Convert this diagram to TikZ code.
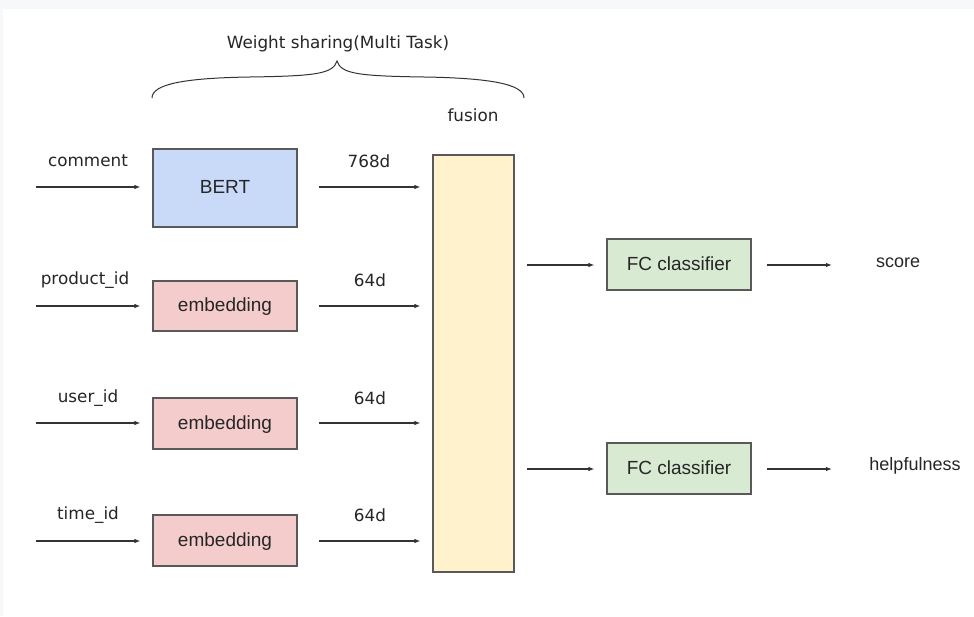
\documentclass[tikz,border=0pt]{standalone}
\usepackage{fontspec}
\setmainfont{Liberation Sans}
\newfontfamily\labelfont{DejaVu Sans}
\usetikzlibrary{arrows.meta}

\definecolor{pagegray}{HTML}{F6F8FA}
\definecolor{linegray}{HTML}{333333}
\definecolor{boxline}{HTML}{595959}
\definecolor{bertblue}{HTML}{C9DAF8}
\definecolor{embred}{HTML}{F4CCCC}
\definecolor{fuseyellow}{HTML}{FFF2CC}
\definecolor{fcgreen}{HTML}{D9EAD3}

\tikzset{
  block/.style={draw=boxline, line width=1.2pt, inner sep=0pt,
    minimum width=144pt, text height=13.6pt, text depth=2pt,
    font=\fontsize{19}{22}\selectfont, text=black!85},
  lbl/.style={font=\labelfont\fontsize{16.8}{20}\selectfont, text=black!85, inner sep=0pt},
  outlbl/.style={font=\fontsize{18}{21}\selectfont, text=black!85, inner sep=0pt},
  arr/.style={draw=linegray, line width=1.1pt, -{Latex[length=6pt,width=4.5pt]}},
}

\begin{document}
\begin{tikzpicture}[x=1pt, y=-1pt]
  \useasboundingbox (0,0) rectangle (974,616);
  % page background with its thin grey edge
  \fill[white] (0,0) rectangle (974,616);
  \fill[pagegray] (0,0) rectangle (974,9);
  \fill[pagegray] (0,0) rectangle (3,616);

  % shared-weights brace and its caption
  \node[lbl] (title) at (338,44) {Weight sharing(Multi Task)};
  \draw[linegray, line width=1pt]
    (152,98) .. controls (152,84) and (185,78) .. (250,77)
    .. controls (315,76) and (333,74) .. (337,61)
    .. controls (341,74) and (359,76) .. (424,77)
    .. controls (489,78) and (524,84) .. (524,98);

  % encoder blocks
  \node[block, fill=bertblue, minimum height=78pt] (bert) at (225,188) {BERT};
  \node[block, fill=embred, minimum height=50pt] (emb1) at (225,306) {embedding};
  \node[block, fill=embred, minimum height=51pt] (emb2) at (225,423.5) {embedding};
  \node[block, fill=embred, minimum height=51pt] (emb3) at (225,540.5) {embedding};

  % fusion column
  \node[block, fill=fuseyellow, minimum width=81pt, minimum height=417pt] (fusion) at (473.5,363.5) {};
  \node[lbl] (fusionlbl) at (473,115) {fusion};

  % classifier heads
  \node[block, fill=fcgreen, minimum height=51pt] (fc1) at (679,264.5) {FC classifier};
  \node[block, fill=fcgreen, minimum height=51pt] (fc2) at (679,468.5) {FC classifier};

  % input labels and arrow tails
  \node[lbl] (incomment) at (88,161) {comment};
  \node[lbl] (inproduct) at (85,280) {product\_id};
  \node[lbl] (inuser) at (88,398) {user\_id};
  \node[lbl] (intime) at (88,515) {time\_id};
  \coordinate (s1) at (36,187);
  \coordinate (s2) at (36,306);
  \coordinate (s3) at (36,423);
  \coordinate (s4) at (36,541);

  \draw[arr, shorten >=12pt] (s1) -- (s1 -| bert.west);
  \draw[arr, shorten >=12pt] (s2) -- (s2 -| emb1.west);
  \draw[arr, shorten >=12pt] (s3) -- (s3 -| emb2.west);
  \draw[arr, shorten >=12pt] (s4) -- (s4 -| emb3.west);

  % feature sizes into fusion
  \node[lbl] (d1) at (369,161) {768d};
  \node[lbl] (d2) at (370,280) {64d};
  \node[lbl] (d3) at (370,398) {64d};
  \node[lbl] (d4) at (370,515) {64d};

  \draw[arr, shorten <=21pt, shorten >=12pt] (s1 -| bert.east) -- (s1 -| fusion.west);
  \draw[arr, shorten <=21pt, shorten >=12pt] (s2 -| emb1.east) -- (s2 -| fusion.west);
  \draw[arr, shorten <=21pt, shorten >=12pt] (s3 -| emb2.east) -- (s3 -| fusion.west);
  \draw[arr, shorten <=21pt, shorten >=12pt] (s4 -| emb3.east) -- (s4 -| fusion.west);

  % head outputs
  \coordinate (o1) at (832,265);
  \coordinate (o2) at (832,469);

  % fusion to heads
  \draw[arr, shorten <=12pt, shorten >=12pt] (o1 -| fusion.east) -- (o1 -| fc1.west);
  \draw[arr, shorten <=12pt, shorten >=12pt] (o2 -| fusion.east) -- (o2 -| fc2.west);

  \draw[arr, shorten <=15pt] (o1 -| fc1.east) -- (o1);
  \draw[arr, shorten <=15pt] (o2 -| fc2.east) -- (o2);
  \node[outlbl] (score) at (898,263) {score};
  \node[outlbl] (helpful) at (915,466) {helpfulness};
\end{tikzpicture}
\end{document}
